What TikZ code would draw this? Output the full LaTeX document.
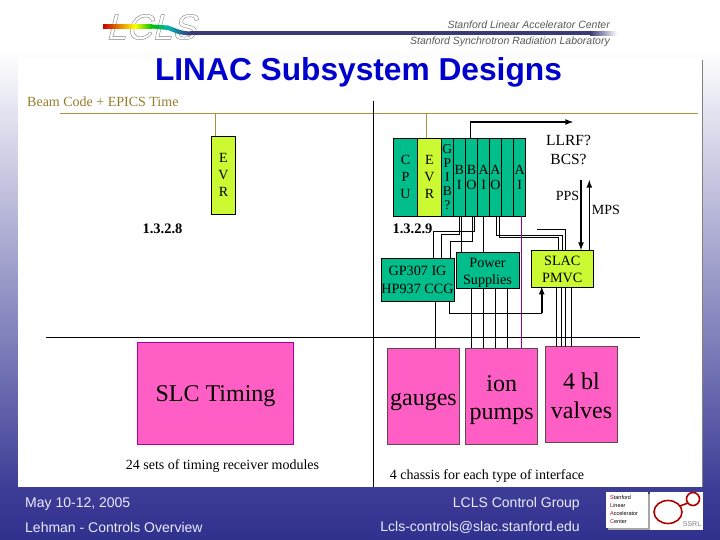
\documentclass[tikz,border=0pt]{standalone}
\usepackage{fontspec}
\setmainfont{Liberation Serif}
\newfontfamily\arialfont{Liberation Sans}
\usepackage{xcolor}
\usetikzlibrary{calc}
\usetikzlibrary{positioning}

\definecolor{modgreen}{RGB}{0,190,140}
\definecolor{evryellow}{RGB}{204,250,50}
\definecolor{hotpink}{RGB}{255,95,196}
\definecolor{tanline}{RGB}{170,145,60}
\definecolor{tantext}{RGB}{150,125,40}
\definecolor{slideblue}{RGB}{62,62,152}
\definecolor{footblue}{RGB}{48,48,142}
\definecolor{beamnavy}{RGB}{58,58,120}

\tikzset{
  box/.style={draw, anchor=north west, inner sep=0pt, outer sep=0pt, align=center},
  module/.style={box, fill=modgreen, line width=0.8pt, minimum height=78pt,
                 font=\fontsize{14}{15}\selectfont},
  midbox/.style={box, fill=modgreen, font=\fontsize{14.2}{17.5}\selectfont},
  wire/.style={black, line width=0.8pt},
  tanwire/.style={tanline, line width=0.8pt},
  heavy/.style={black, line width=1.6pt},
  pinkbox/.style={box, fill=hotpink, line width=1pt, font=\fontsize{24}{28.5}\selectfont},
  foot/.style={font=\arialfont\fontsize{14}{16}\selectfont, text=white!92!blue, inner sep=0pt},
  plain/.style={inner sep=0pt, align=center, font=\fontsize{14}{17}\selectfont}
}

\begin{document}
\begin{tikzpicture}[x=1pt, y=-1pt]
    \useasboundingbox (0,0) rectangle (720,540);

    % 1. Slide background and white panel
    \shade[top color=white, bottom color=slideblue] (0,50) rectangle (720,487);
    \shade[top color=slideblue, bottom color=footblue] (0,487) rectangle (720,540);
    \fill[white] (18,58) rectangle (703,487);
    \draw[gray, line width=0.8pt] (702.6,60) -- (702.6,487);

    % 2. Header with logo and beam line
    \node[inner sep=0pt, text=gray] (lcls) at (151,27)
        {\arialfont\fontsize{36}{36}\selectfont\addfontfeature{FakeSlant=0.25}%
         \special{pdf:code q 1 Tr 0.4 w}LCLS\special{pdf:code Q}};
    \shade[left color=red!80!black, right color=yellow] (103,24.5) rectangle (135,28.5);
    \shade[left color=yellow, right color=green!75!black] (135,24.5) rectangle (152,28.5);
    \shade[left color=green!75!black, right color=cyan!70!black]
        (152,24.5) -- (168,25.5) -- (168,30) -- (152,28.5) -- cycle;
    \shade[left color=cyan!70!black, right color=beamnavy]
        (168,25.5) .. controls (175,28) and (180,31) .. (190,31.5) -- (190,35.5)
        .. controls (180,35) and (175,33) .. (168,30) -- cycle;
    \fill[beamnavy] (190,31.5) rectangle (590,35.5);
    \shade[left color=beamnavy, right color=white] (590,31.5) rectangle (617,35.5);
    \node[inner sep=0pt, anchor=east, text=black!65] (slac lab) at (610,24.5)
        {\arialfont\itshape\fontsize{10.5}{12}\selectfont Stanford Linear Accelerator Center};
    \node[inner sep=0pt, anchor=east, text=black!65] (ssrl lab) at (610,42)
        {\arialfont\itshape\fontsize{10.5}{12}\selectfont Stanford Synchrotron Radiation Laboratory};

    % 3. Title and timing label
    \node[inner sep=0pt, text={rgb,255:red,0;green,0;blue,204}] (title) at (358.5,72.5)
        {\arialfont\bfseries\fontsize{31.7}{34}\selectfont LINAC Subsystem Designs};
    \node[inner sep=0pt, anchor=west, text=tantext] (beamcode) at (27,102)
        {\fontsize{14}{15}\selectfont Beam Code + EPICS Time};
    \coordinate (timeL) at (60,113);
    \coordinate (timeR) at (698,113);
    \draw[tanwire] (timeL) -- (timeR);

    % 4. Dividing lines
    \draw[wire] (373.5,101) -- (373.5,487);
    \draw[wire] (46,337.5) -- (640,337.5);

    % 5. Left crate
    \node[module, fill=evryellow, minimum width=24.4pt] (evrL) at (211.3,136.3) {E\\[2pt]V\\[2pt]R};
    \draw[tanwire] ([xshift=-8pt]evrL.north |- timeL) -- ([xshift=-8pt]evrL.north);
    \node[plain, font=\bfseries\fontsize{14.5}{15}\selectfont] (numL) at (162.5,228.5) {1.3.2.8};

    % 6. Right crate, one node per slot
    \node[module, minimum width=24.4pt] (cpu) at (393.3,138) {C\\[2pt]P\\[2pt]U};
    \node[module, fill=evryellow, minimum width=23.6pt] (evrR) at (417.7,138) {E\\[2pt]V\\[2pt]R};
    \node[module, minimum width=12pt, font=\fontsize{13.5}{14}\selectfont] (gpib) at (441.3,138) {G\\P\\I\\B\\?};
    \foreach \name/\xpos/\txt in {bi/453.3/{B\\I}, bo/465.5/{B\\O}, aiA/477.6/{A\\I},
                                  aoA/489.5/{A\\O}, spare/501.7/{}, aiB/513.6/{A\\I}} {
        \node[module, minimum width=12pt] (\name) at (\xpos,138) {\txt};
    }
    \node[plain, font=\bfseries\fontsize{14.5}{15}\selectfont] (numR) at (412.5,228.5) {1.3.2.9};
    \draw[tanwire] ([xshift=-2.8pt]evrR.north |- timeL) -- ([xshift=-2.8pt]evrR.north);

    % 7. Middle row of boxes
    \node[midbox, minimum width=72.4pt, minimum height=43pt] (gp) at (381.3,258.3) {GP307 IG\\HP937 CCG};
    \node[midbox, minimum width=62.4pt, minimum height=36pt] (power) at (456.3,252.3) {\rule{0pt}{14pt}Power\\Supplies};
    \node[midbox, fill=evryellow, minimum width=62pt, minimum height=36.7pt] (pmvc) at (531.3,250) {\rule{0pt}{12pt}SLAC\\PMVC};

    % 8. Bottom row of boxes
    \node[pinkbox, draw=violet!70!magenta, minimum width=156.4pt, minimum height=102pt] (timing) at (137.3,342.3) {\rule{0pt}{22pt}SLC Timing};
    \node[pinkbox, draw=black!70!magenta, minimum width=71.6pt, minimum height=96pt] (gauges) at (387.7,348.3) {\rule{0pt}{23pt}gauges};
    \node[pinkbox, draw=black!70!magenta, minimum width=72pt, minimum height=96pt] (ion) at (465.7,348.3) {\rule{0pt}{24pt}ion\\pumps};
    \node[pinkbox, draw=black!70!magenta, minimum width=72.4pt, minimum height=95.6pt] (valves) at (545.3,346.7) {\rule{0pt}{19.5pt}4 bl\\valves};

    % 9. Wires from the slots to the boxes
    \draw[wire] ([xshift=3.3pt]bo.south) -- ++(0,15) -| ([xshift=15.5pt]gp.north);
    \draw[wire] (bi.south) -- ++(0,18.7) -| ([xshift=23.5pt]gp.north);
    \draw[wire] ([xshift=0.6pt]bo.south) -- ++(0,25.3) -| ([xshift=32.5pt]gp.north);
    \draw[wire] ([xshift=2.2pt]bi.south) -- ([xshift=2.2pt]bi.south |- power.north);
    \draw[wire] (aiA.south) -- (aiA.south |- power.north);
    \draw[wire] ([xshift=1pt]aoA.south) -- ++(0,19) -| (pmvc.north);
    \draw[wire] ([xshift=3.6pt]aoA.south) -- ++(0,21.3) -| ([xshift=-4.3pt]pmvc.north);
    \coordinate (stub) at (537,229.3);
    \draw[wire] (stub) -| ([xshift=2.7pt]pmvc.north);
    \draw[violet!80!magenta, line width=0.8pt] ([xshift=2.2pt]aiB.south) -- ([xshift=2.2pt]aiB.south |- ion.north);

    % 10. Wires down to the chassis
    \draw[wire] ([xshift=18pt]gp.south) -- ([xshift=18pt]gp.south |- gauges.north);
    \foreach \dx in {-15.8, -4.2, 8.2, 19.8} {
        \draw[wire] ([xshift=\dx pt]power.south) -- ([xshift=\dx pt]power.south |- ion.north);
    }
    \foreach \dx in {-5.6, -1.3, 3.2, 9} {
        \draw[wire] ([xshift=\dx pt]pmvc.south) -- ([xshift=\dx pt]pmvc.south |- valves.north);
    }

    % 11. Heavy arrows
    \coordinate (llrfEnd) at (573,122);
    \coordinate (turn) at ([xshift=-20.6pt]pmvc.south |- 0,313.3);
    \coordinate (ppsTop) at ([xshift=18.7pt]pmvc.north |- 0,180);
    \coordinate (mpsTop) at ([xshift=27pt]pmvc.north |- 0,180);
    \draw[wire] ([xshift=-1.5pt]bo.north) -- ([xshift=-1.5pt]bo.north |- llrfEnd);
    \draw[heavy, -latex] ([xshift=-1.5pt]bo.north |- llrfEnd) -- (llrfEnd);
    \draw[heavy, -latex] (ppsTop) -- ([xshift=18.7pt]pmvc.north);
    \draw[heavy, -latex] ([xshift=27pt]pmvc.north) -- (mpsTop);
    \draw[wire] ([xshift=32pt]gp.south) |- (turn);
    \draw[heavy, -latex] (turn) -- ([xshift=-20.6pt]pmvc.south);

    % 12. Free labels
    \node[plain, font=\fontsize{15.5}{19}\selectfont] (llrf) at (568.5,150) {LLRF?\\BCS?};
    \node[plain] (pps) at (567.5,196) {PPS};
    \node[plain] (mps) at (606,209.5) {MPS};
    \node[plain] (sets) at (222.5,466) {24 sets of timing receiver modules};
    \node[plain] (chassis) at (487,476) {4 chassis for each type of interface};

    % 13. Footer
    \node[foot, anchor=west] (date) at (25,504) {May 10-12, 2005};
    \node[foot, anchor=west] (talk) at (25,527) {Lehman - Controls Overview};
    \node[foot, anchor=east] (group) at (580,504) {LCLS Control Group};
    \node[foot, anchor=east] (mail) at (580,527) {Lcls-controls@slac.stanford.edu};

    % 14. Footer logos
    \fill[black!35] (608,494) rectangle (650,530);
    \fill[white] (606,492) rectangle (648,528);
    \node[inner sep=0pt, anchor=west, align=left, font=\arialfont\fontsize{5.5}{8}\selectfont] (slaclogo) at (610,510)
        {\textcolor{red!70!black}{S}tanford\\\textcolor{red!70!black}{L}inear\\\textcolor{red!70!black}{A}ccelerator\\\textcolor{red!70!black}{C}enter};
    \fill[white] (650,492) rectangle (703,530);
    \draw[red!70!black, line width=1.6pt] (668,512) ellipse (14 and 11.5);
    \draw[red!70!black, line width=1.6pt] (693,499) circle (6.5);
    \draw[red!70!black, line width=1.6pt] (680,506) -- (688,503);
    \node[inner sep=0pt, text=gray, font=\arialfont\fontsize{7}{8}\selectfont] (ssrlmark) at (692,524) {SSRL};
\end{tikzpicture}
\end{document}
